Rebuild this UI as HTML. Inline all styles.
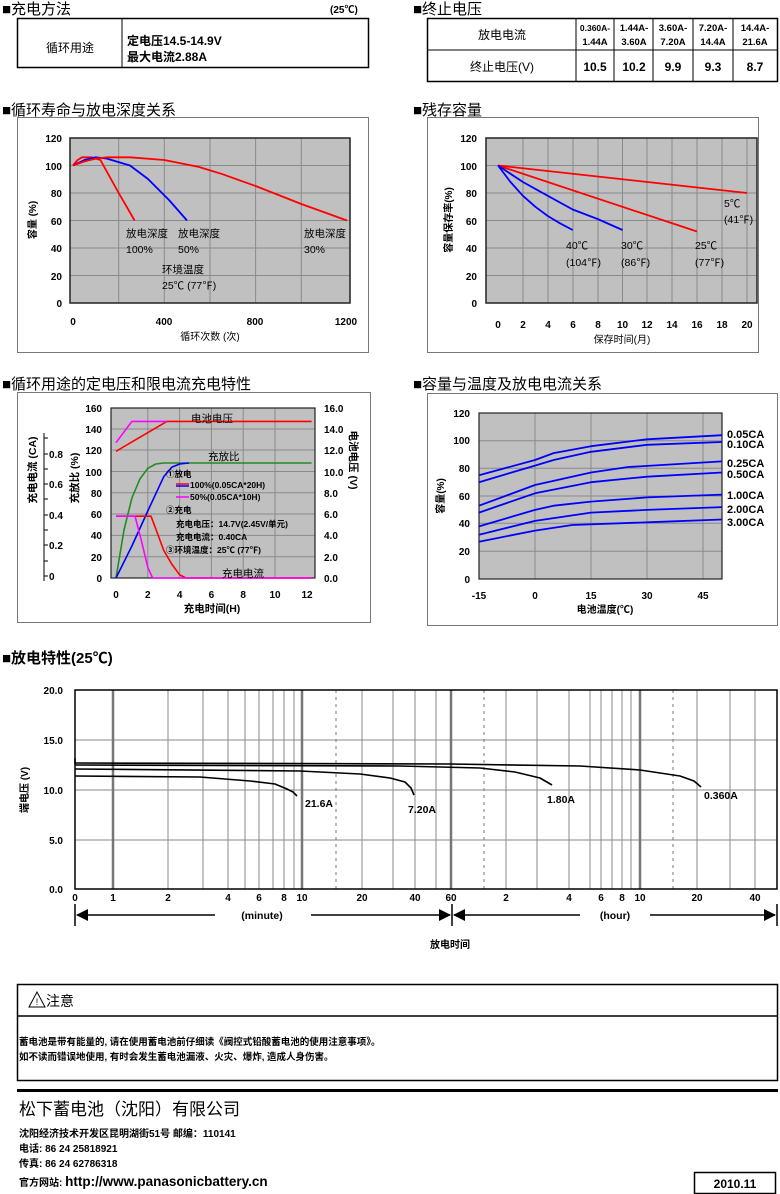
<!DOCTYPE html>
<html><head><meta charset="utf-8"><style>
html,body{margin:0;padding:0;background:#fff}
svg{display:block}
text{font-family:"Liberation Sans","Noto Sans CJK SC",sans-serif;fill:#000}
.t{font-size:15px}
.b{font-weight:bold;font-size:10.5px}
.s{font-size:10px;font-weight:bold}
.g{stroke:#8a8a8a;stroke-width:1}
</style></head><body>
<svg width="780" height="1194" viewBox="0 0 780 1194" xmlns="http://www.w3.org/2000/svg">
<!-- Section titles -->
<text x="2" y="14" class="t">■充电方法</text>
<text x="330" y="13" class="s" font-size="11">(25℃)</text>
<text x="413" y="14" class="t">■终止电压</text>
<text x="2" y="115" class="t">■循环寿命与放电深度关系</text>
<text x="413" y="115" class="t">■残存容量</text>
<text x="2" y="389" class="t">■循环用途的定电压和限电流充电特性</text>
<text x="413" y="389" class="t">■容量与温度及放电电流关系</text>
<text x="2" y="663" class="t" font-weight="bold">■放电特性(25℃)</text>

<!-- Table 1 -->
<rect x="17.5" y="18.5" width="351" height="49" fill="none" stroke="#000" stroke-width="1.5"/>
<line x1="122" y1="18" x2="122" y2="68" stroke="#000"/>
<text x="70" y="52" text-anchor="middle" font-size="12">循环用途</text>
<text x="127" y="45" font-size="12" font-weight="bold">定电压14.5-14.9V</text>
<text x="127" y="61" font-size="12" font-weight="bold">最大电流2.88A</text>

<!-- Table 2 -->
<rect x="427.5" y="18.5" width="350" height="63" fill="none" stroke="#000" stroke-width="1.5"/>
<line x1="427" y1="50" x2="778" y2="50" stroke="#000"/>
<line x1="576" y1="18" x2="576" y2="82" stroke="#000"/>
<line x1="614" y1="18" x2="614" y2="82" stroke="#000"/>
<line x1="653" y1="18" x2="653" y2="82" stroke="#000"/>
<line x1="693" y1="18" x2="693" y2="82" stroke="#000"/>
<line x1="733" y1="18" x2="733" y2="82" stroke="#000"/>
<text x="502" y="39" text-anchor="middle" font-size="12">放电电流</text>
<text x="502" y="71" text-anchor="middle" font-size="12">终止电压(V)</text>
<g font-size="9.5" font-weight="bold" text-anchor="middle">
<text x="595" y="31" font-size="8.5">0.360A-</text><text x="595" y="45">1.44A</text>
<text x="634" y="31">1.44A-</text><text x="634" y="45">3.60A</text>
<text x="673" y="31">3.60A-</text><text x="673" y="45">7.20A</text>
<text x="713" y="31">7.20A-</text><text x="713" y="45">14.4A</text>
<text x="755" y="31">14.4A-</text><text x="755" y="45">21.6A</text>
</g>
<g font-size="12" font-weight="bold" text-anchor="middle">
<text x="595" y="71">10.5</text><text x="634" y="71">10.2</text><text x="673" y="71">9.9</text><text x="713" y="71">9.3</text><text x="755" y="71">8.7</text>
</g>

<!-- Chart 1 cycle life -->
<rect x="17.5" y="117.5" width="351" height="235" fill="none" stroke="#777"/>
<rect x="70" y="138" width="280" height="165" fill="#c0c0c0"/>
<g class="g">
<line x1="118.7" y1="138" x2="118.7" y2="303"/><line x1="164.3" y1="138" x2="164.3" y2="303"/><line x1="210" y1="138" x2="210" y2="303"/><line x1="255.6" y1="138" x2="255.6" y2="303"/><line x1="301.3" y1="138" x2="301.3" y2="303"/>
<line x1="70" y1="275.5" x2="350" y2="275.5"/><line x1="70" y1="248" x2="350" y2="248"/><line x1="70" y1="220.5" x2="350" y2="220.5"/><line x1="70" y1="193" x2="350" y2="193"/><line x1="70" y1="165.5" x2="350" y2="165.5"/>
</g>
<rect x="70" y="138" width="280" height="165" fill="none" stroke="#222" stroke-width="1.5"/>
<g fill="none" stroke-width="1.8" stroke-linejoin="round">
<polyline stroke="#f00" points="73,165.5 77.6,160 82,157.3 91.3,157.3 100.4,160 118.7,193 134.6,220.5"/>
<polyline stroke="#00f" points="73,165.5 84.4,160 95.8,157.3 107,158.6 130,165.5 148,179 169,200 187,220.5"/>
<polyline stroke="#f00" points="73,165.5 84.4,161.4 95.8,158.6 107,157.3 130,157.3 164.3,160 198.6,166.9 221.4,173.8 255.6,186 301.3,204 347,220.5"/>
</g>
<g class="s" text-anchor="end">
<text x="62" y="142">120</text><text x="62" y="170">100</text><text x="62" y="197">80</text><text x="62" y="225">60</text><text x="62" y="252">40</text><text x="62" y="280">20</text><text x="62" y="307">0</text>
</g>
<g class="s" text-anchor="middle">
<text x="73" y="325">0</text><text x="164" y="325">400</text><text x="255" y="325">800</text><text x="346" y="325">1200</text>
</g>
<text x="210" y="340" font-size="10" text-anchor="middle">循环次数 (次)</text>
<text transform="translate(36,220) rotate(-90)" font-size="10" font-weight="bold" text-anchor="middle">容量 (%)</text>
<g font-size="10.5">
<text x="126" y="237">放电深度</text><text x="126" y="253">100%</text>
<text x="178" y="237">放电深度</text><text x="178" y="253">50%</text>
<text x="304" y="237">放电深度</text><text x="304" y="253">30%</text>
<text x="162" y="273">环境温度</text><text x="162" y="289">25℃ (77℉)</text>
</g>

<!-- Chart 2 residual -->
<rect x="427.5" y="117.5" width="331" height="235" fill="none" stroke="#777"/>
<rect x="486" y="138" width="271" height="165" fill="#c0c0c0"/>
<g class="g">
<line x1="523" y1="138" x2="523" y2="303"/><line x1="548" y1="138" x2="548" y2="303"/><line x1="573" y1="138" x2="573" y2="303"/><line x1="598" y1="138" x2="598" y2="303"/><line x1="622.5" y1="138" x2="622.5" y2="303"/><line x1="647" y1="138" x2="647" y2="303"/><line x1="672" y1="138" x2="672" y2="303"/><line x1="697" y1="138" x2="697" y2="303"/><line x1="722" y1="138" x2="722" y2="303"/><line x1="747" y1="138" x2="747" y2="303"/>
<line x1="486" y1="275.5" x2="757" y2="275.5"/><line x1="486" y1="248" x2="757" y2="248"/><line x1="486" y1="220.5" x2="757" y2="220.5"/><line x1="486" y1="193" x2="757" y2="193"/><line x1="486" y1="165.5" x2="757" y2="165.5"/>
</g>
<rect x="486" y="138" width="271" height="165" fill="none" stroke="#222" stroke-width="1.5"/>
<g fill="none" stroke-width="1.8" stroke-linejoin="round">
<polyline stroke="#f00" points="498,165.5 747,193"/>
<polyline stroke="#f00" points="498,165.5 697,231.5"/>
<polyline stroke="#00f" points="498,165.5 522.9,182 547.8,195.8 572.7,209.5 597.6,219 622.5,230"/>
<polyline stroke="#00f" points="498,165.5 510.5,182 522.9,195.8 535.4,206.8 547.8,216 560,223.3 572.7,230"/>
</g>
<g class="s" text-anchor="end">
<text x="477" y="142">120</text><text x="477" y="170">100</text><text x="477" y="197">80</text><text x="477" y="225">60</text><text x="477" y="252">40</text><text x="477" y="280">20</text><text x="477" y="307">0</text>
</g>
<g class="s" text-anchor="middle">
<text x="498" y="328">0</text><text x="523" y="328">2</text><text x="548" y="328">4</text><text x="573" y="328">6</text><text x="598" y="328">8</text><text x="622.5" y="328">10</text><text x="647" y="328">12</text><text x="672" y="328">14</text><text x="697" y="328">16</text><text x="722" y="328">18</text><text x="747" y="328">20</text>
</g>
<text x="622" y="343" font-size="10" text-anchor="middle">保存时间(月)</text>
<text transform="translate(452,220) rotate(-90)" font-size="10" font-weight="bold" text-anchor="middle">容量保存率(%)</text>
<g font-size="10.5">
<text x="724" y="207">5℃</text><text x="724" y="223">(41℉)</text>
<text x="566" y="249">40℃</text><text x="566" y="266">(104℉)</text>
<text x="621" y="249">30℃</text><text x="621" y="266">(86℉)</text>
<text x="695" y="249">25℃</text><text x="695" y="266">(77℉)</text>
</g>

<!-- Chart 3 charging -->
<rect x="17.5" y="392.5" width="353" height="230" fill="none" stroke="#777"/>
<rect x="111" y="408" width="204" height="170" fill="#c0c0c0"/>
<g class="g">
<line x1="147.8" y1="408" x2="147.8" y2="578"/><line x1="179.6" y1="408" x2="179.6" y2="578"/><line x1="211.4" y1="408" x2="211.4" y2="578"/><line x1="243.2" y1="408" x2="243.2" y2="578"/><line x1="275" y1="408" x2="275" y2="578"/>
<line x1="111" y1="556.7" x2="315" y2="556.7"/><line x1="111" y1="535.4" x2="315" y2="535.4"/><line x1="111" y1="514" x2="315" y2="514"/><line x1="111" y1="492.8" x2="315" y2="492.8"/><line x1="111" y1="471.5" x2="315" y2="471.5"/><line x1="111" y1="450" x2="315" y2="450"/><line x1="111" y1="429" x2="315" y2="429"/>
</g>
<rect x="111" y="408" width="204" height="170" fill="none" stroke="#222" stroke-width="1.2"/>
<g fill="none" stroke-width="1.6" stroke-linejoin="round">
<polyline stroke="#f00" points="116,451.3 166.9,421.4 311.6,421.4"/>
<polyline stroke="#f0f" points="116,442.7 131.9,421.4 166.9,421.4"/>
<polyline stroke="#228b22" points="116,578 124,530 131.9,498 139.9,479 147.8,468.3 155.8,464 163.7,463 311.6,463"/>
<polyline stroke="#00f" points="116,578 131.9,546 147.8,511 163.7,476.8 171.7,467.2 179.6,464 189,463"/>
<polyline stroke="#f00" points="116,516.2 151,516.2 157.3,533 163.7,550.3 171.7,564 179.6,574.8 186,578 311.6,578"/>
<polyline stroke="#f0f" points="116,516.2 135,516.2 141.4,540.7 147.8,567.4 152.6,578 311.6,578"/>
<line x1="176" y1="484" x2="189" y2="484" stroke="#f00" stroke-width="1.5"/>
<line x1="176" y1="486" x2="189" y2="486" stroke="#00f" stroke-width="1.5"/>
<line x1="176" y1="497" x2="189" y2="497" stroke="#f0f" stroke-width="1.5"/>
</g>
<g class="s" text-anchor="end">
<text x="102" y="412">160</text><text x="102" y="433">140</text><text x="102" y="454">120</text><text x="102" y="476">100</text><text x="102" y="497">80</text><text x="102" y="518">60</text><text x="102" y="539">40</text><text x="102" y="561">20</text><text x="102" y="582">0</text>
</g>
<g class="s">
<text x="324" y="412">16.0</text><text x="324" y="433">14.0</text><text x="324" y="454">12.0</text><text x="324" y="476">10.0</text><text x="324" y="497">8.0</text><text x="324" y="518">6.0</text><text x="324" y="539">4.0</text><text x="324" y="561">2.0</text><text x="324" y="582">0.0</text>
</g>
<g class="s" text-anchor="middle">
<text x="116" y="598">0</text><text x="147.8" y="598">2</text><text x="179.6" y="598">4</text><text x="211.4" y="598">6</text><text x="243.2" y="598">8</text><text x="275" y="598">10</text><text x="307" y="598">12</text>
</g>
<line x1="44" y1="433" x2="44" y2="581" stroke="#000"/>
<g stroke="#000"><line x1="44" y1="438" x2="48" y2="438"/><line x1="44" y1="454" x2="48" y2="454"/><line x1="44" y1="469" x2="48" y2="469"/><line x1="44" y1="484" x2="48" y2="484"/><line x1="44" y1="499" x2="48" y2="499"/><line x1="44" y1="515" x2="48" y2="515"/><line x1="44" y1="530" x2="48" y2="530"/><line x1="44" y1="545" x2="48" y2="545"/><line x1="44" y1="561" x2="48" y2="561"/><line x1="44" y1="576" x2="48" y2="576"/></g>
<g class="s"><text x="49" y="458">0.8</text><text x="49" y="488">0.6</text><text x="49" y="519">0.4</text><text x="49" y="549">0.2</text><text x="49" y="580">0</text></g>
<text transform="translate(36,470) rotate(-90)" font-size="10.5" font-weight="bold" text-anchor="middle">充电电流 (CA)</text>
<text transform="translate(78,478) rotate(-90)" font-size="10.5" font-weight="bold" text-anchor="middle">充放比 (%)</text>
<text transform="translate(350,460) rotate(90)" font-size="10.5" font-weight="bold" text-anchor="middle">电池电压 (V)</text>
<text x="212" y="612" font-size="10.5" font-weight="bold" text-anchor="middle">充电时间(H)</text>
<text x="191" y="422" font-size="10.5">电池电压</text>
<text x="208" y="460" font-size="10.5">充放比</text>
<text x="222" y="577" font-size="10.5">充电电流</text>
<g font-size="8.5" font-weight="bold">
<text x="166" y="477">①放电</text>
<text x="190" y="488">100%(0.05CA*20H)</text>
<text x="190" y="500">50%(0.05CA*10H)</text>
<text x="166" y="513">②充电</text>
<text x="176" y="527">充电电压：14.7V(2.45V/单元)</text>
<text x="176" y="540">充电电流：0.40CA</text>
<text x="166" y="553">③环境温度：25℃ (77℉)</text>
</g>

<!-- Chart 4 temperature -->
<rect x="427.5" y="393.5" width="350" height="232" fill="none" stroke="#777"/>
<rect x="479" y="413" width="243" height="166" fill="#c0c0c0"/>
<g class="g">
<line x1="535" y1="413" x2="535" y2="579"/><line x1="591" y1="413" x2="591" y2="579"/><line x1="647" y1="413" x2="647" y2="579"/><line x1="703" y1="413" x2="703" y2="579"/>
<line x1="479" y1="551.3" x2="722" y2="551.3"/><line x1="479" y1="523.3" x2="722" y2="523.3"/><line x1="479" y1="496" x2="722" y2="496"/><line x1="479" y1="468.3" x2="722" y2="468.3"/><line x1="479" y1="440.7" x2="722" y2="440.7"/>
</g>
<rect x="479" y="413" width="243" height="166" fill="none" stroke="#222" stroke-width="1.2"/>
<g fill="none" stroke="#00f" stroke-width="1.8" stroke-linejoin="round">
<polyline points="479,475.3 535,460 553.6,453.1 591,446.2 647,439.3 722,435.2"/>
<polyline points="479,482.2 535,465.6 553.6,460 591,451.8 647,444.8 722,442"/>
<polyline points="479,505.7 535,485 591,472.5 628.3,467 722,461.4"/>
<polyline points="479,512.6 535,493.3 591,482.2 647,476.7 722,472.5"/>
<polyline points="479,526.4 535,509.9 553.6,505.7 591,501.6 647,497.4 722,494.6"/>
<polyline points="479,534.7 535,520.9 591,512.6 647,509.9 722,507.1"/>
<polyline points="479,541.7 535,530.6 572.3,525 647,522.3 722,519.5"/>
</g>
<g class="s" text-anchor="end">
<text x="470" y="417">120</text><text x="470" y="444">100</text><text x="470" y="472">80</text><text x="470" y="500">60</text><text x="470" y="527">40</text><text x="470" y="555">20</text><text x="470" y="583">0</text>
</g>
<g class="s" text-anchor="middle">
<text x="479" y="599">-15</text><text x="535" y="599">0</text><text x="591" y="599">15</text><text x="647" y="599">30</text><text x="703" y="599">45</text>
</g>
<text x="605" y="613" font-size="10" font-weight="bold" text-anchor="middle">电池温度(℃)</text>
<text transform="translate(444,496) rotate(-90)" font-size="10" font-weight="bold" text-anchor="middle">容量(%)</text>
<g font-size="11" font-weight="bold">
<text x="727" y="438">0.05CA</text><text x="727" y="448">0.10CA</text><text x="727" y="467">0.25CA</text><text x="727" y="478">0.50CA</text><text x="727" y="499">1.00CA</text><text x="727" y="513">2.00CA</text><text x="727" y="526">3.00CA</text>
</g>

<!-- Chart 5 discharge -->
<g class="g">
<line x1="75" y1="740" x2="777" y2="740"/><line x1="75" y1="790" x2="777" y2="790"/><line x1="75" y1="840" x2="777" y2="840"/>
<line x1="168" y1="690" x2="168" y2="889"/><line x1="203" y1="690" x2="203" y2="889"/><line x1="228" y1="690" x2="228" y2="889"/><line x1="245" y1="690" x2="245" y2="889"/><line x1="259" y1="690" x2="259" y2="889"/><line x1="273" y1="690" x2="273" y2="889"/><line x1="284" y1="690" x2="284" y2="889"/><line x1="294" y1="690" x2="294" y2="889"/>
<line x1="362" y1="690" x2="362" y2="889"/><line x1="393" y1="690" x2="393" y2="889"/><line x1="415" y1="690" x2="415" y2="889"/><line x1="436" y1="690" x2="436" y2="889"/>
<line x1="506" y1="690" x2="506" y2="889"/><line x1="537" y1="690" x2="537" y2="889"/><line x1="569" y1="690" x2="569" y2="889"/><line x1="590" y1="690" x2="590" y2="889"/><line x1="601" y1="690" x2="601" y2="889"/><line x1="612" y1="690" x2="612" y2="889"/><line x1="622" y1="690" x2="622" y2="889"/><line x1="631" y1="690" x2="631" y2="889"/>
<line x1="697" y1="690" x2="697" y2="889"/><line x1="730" y1="690" x2="730" y2="889"/><line x1="755" y1="690" x2="755" y2="889"/>
</g>
<g stroke="#777" stroke-width="2.5">
<line x1="113" y1="690" x2="113" y2="889"/><line x1="302" y1="690" x2="302" y2="889"/><line x1="451" y1="690" x2="451" y2="889"/><line x1="640" y1="690" x2="640" y2="889"/>
</g>
<g stroke="#777" stroke-width="1" stroke-dasharray="3,4">
<line x1="336" y1="690" x2="336" y2="889"/><line x1="484" y1="690" x2="484" y2="889"/><line x1="673" y1="690" x2="673" y2="889"/>
</g>
<rect x="75" y="690" width="702" height="199" fill="none" stroke="#000" stroke-width="1.5"/>
<g fill="none" stroke="#000" stroke-width="1.6" stroke-linejoin="round">
<polyline points="75,776 200,777 250,781 275,784 287,789 293,792 297,796"/>
<polyline points="75,769 300,771 360,774 390,778 405,782 411,788 414,795"/>
<polyline points="75,765 400,766 480,768 515,772 540,778 552,785"/>
<polyline points="75,763 450,764 580,766 640,770 680,776 694,781 701,787"/>
<line x1="75" y1="758" x2="75" y2="764"/>
</g>
<g font-size="10.5" font-weight="bold">
<text x="305" y="807">21.6A</text><text x="408" y="813">7.20A</text><text x="547" y="803">1.80A</text><text x="704" y="799">0.360A</text>
</g>
<g class="s" text-anchor="end">
<text x="63" y="694">20.0</text><text x="63" y="744">15.0</text><text x="63" y="794">10.0</text><text x="63" y="844">5.0</text><text x="63" y="893">0.0</text>
</g>
<g class="s" text-anchor="middle">
<text x="75" y="901">0</text><text x="113" y="901">1</text><text x="168" y="901">2</text><text x="228" y="901">4</text><text x="259" y="901">6</text><text x="284" y="901">8</text><text x="302" y="901">10</text><text x="362" y="901">20</text><text x="415" y="901">40</text><text x="451" y="901">60</text><text x="506" y="901">2</text><text x="569" y="901">4</text><text x="601" y="901">6</text><text x="622" y="901">8</text><text x="640" y="901">10</text><text x="697" y="901">20</text><text x="755" y="901">40</text>
</g>
<g stroke="#000" stroke-width="1.5">
<line x1="75" y1="904" x2="75" y2="926"/><line x1="452" y1="904" x2="452" y2="926"/><line x1="777" y1="904" x2="777" y2="926"/>
<line x1="77" y1="915" x2="215" y2="915"/><line x1="311" y1="915" x2="450" y2="915"/>
<line x1="454" y1="915" x2="580" y2="915"/><line x1="650" y1="915" x2="775" y2="915"/>
</g>
<g fill="#000">
<polygon points="76,915 88,909 88,921"/><polygon points="451,915 439,909 439,921"/>
<polygon points="453,915 465,909 465,921"/><polygon points="776,915 764,909 764,921"/>
</g>
<text x="262" y="919" font-size="10.5" font-weight="bold" text-anchor="middle">(minute)</text>
<text x="615" y="919" font-size="10.5" font-weight="bold" text-anchor="middle">(hour)</text>
<text x="450" y="948" font-size="10" font-weight="bold" text-anchor="middle">放电时间</text>
<text transform="translate(28,790) rotate(-90)" font-size="10" font-weight="bold" text-anchor="middle">端电压 (V)</text>

<!-- Notice -->
<rect x="17.5" y="984.5" width="760" height="96" fill="none" stroke="#000" stroke-width="1.5"/>
<line x1="17" y1="1016" x2="778" y2="1016" stroke="#000" stroke-width="1.5"/>
<polygon points="29,1007 37,992 45,1007" fill="none" stroke="#000" stroke-width="1"/>
<text x="37" y="1005" font-size="9" text-anchor="middle">!</text>
<text x="46" y="1006" font-size="14">注意</text>
<text x="19" y="1045" font-size="9.5" font-weight="bold">蓄电池是带有能量的, 请在使用蓄电池前仔细读《阀控式铅酸蓄电池的使用注意事项》。</text>
<text x="19" y="1060" font-size="9.5" font-weight="bold">如不读而错误地使用, 有时会发生蓄电池漏液、火灾、爆炸, 造成人身伤害。</text>
<rect x="17" y="1089" width="761" height="3" fill="#000"/>
<text x="19" y="1115" font-size="17">松下蓄电池（沈阳）有限公司</text>
<g font-size="10" font-weight="bold">
<text x="19" y="1137">沈阳经济技术开发区昆明湖街51号 邮编：110141</text>
<text x="19" y="1152">电话: 86 24 25818921</text>
<text x="19" y="1167">传真: 86 24 62786318</text>
<text x="19" y="1186">官方网站: <tspan font-size="13.5">http://www.panasonicbattery.cn</tspan></text>
</g>
<rect x="694.5" y="1172.5" width="81" height="21" fill="none" stroke="#000" stroke-width="1.5"/>
<text x="735" y="1188" font-size="12" font-weight="bold" text-anchor="middle">2010.11</text>
</svg>
</body></html>
